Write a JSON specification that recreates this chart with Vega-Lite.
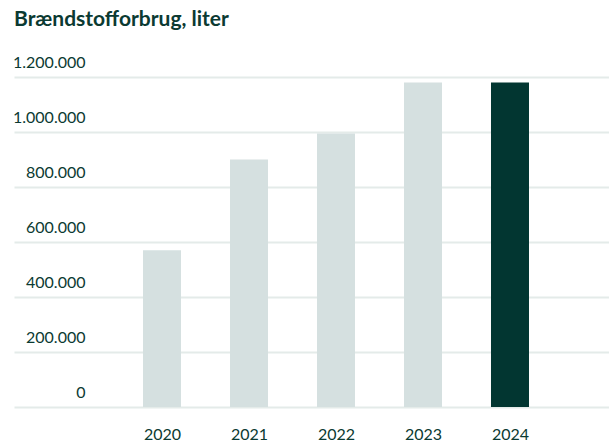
{
  "$schema": "https://vega.github.io/schema/vega-lite/v6.json",
  "autosize": "none",
  "width": 595,
  "height": 330,
  "padding": {"left": 14, "top": 77, "right": 0, "bottom": 36},
  "title": {
    "text": "Brændstofforbrug, liter",
    "anchor": "start",
    "frame": "group",
    "font": "Lato",
    "fontSize": 21,
    "fontWeight": "bold",
    "color": "#0b3a32",
    "offset": 24
  },
  "data": {
    "values": [
      {"year": 2020, "liter": 570000, "current": "no"},
      {"year": 2021, "liter": 900000, "current": "no"},
      {"year": 2022, "liter": 995000, "current": "no"},
      {"year": 2023, "liter": 1180000, "current": "no"},
      {"year": 2024, "liter": 1180000, "current": "yes"}
    ]
  },
  "mark": {"type": "bar", "width": 38},
  "encoding": {
    "x": {
      "field": "year",
      "type": "quantitative",
      "scale": {"domain": [2018.299, 2025.138], "nice": false, "zero": false, "padding": 0},
      "axis": {
        "title": null,
        "values": [2020, 2021, 2022, 2023, 2024],
        "format": "d",
        "grid": false,
        "labelAngle": 0,
        "domain": false,
        "ticks": false,
        "labelPadding": 19,
        "labelFont": "Lato",
        "labelFontSize": 16,
        "labelColor": "#0b3a32"
      }
    },
    "y": {
      "field": "liter",
      "type": "quantitative",
      "scale": {"domain": [0, 1200000], "nice": false},
      "axis": {
        "title": null,
        "values": [0, 200000, 400000, 600000, 800000, 1000000, 1200000],
        "format": ",d",
        "domain": false,
        "ticks": false,
        "tickSize": 0,
        "labelAlign": "right",
        "labelBaseline": "middle",
        "labelPadding": -71,
        "labelOffset": -15,
        "labelFont": "Lato",
        "labelFontSize": 16,
        "labelColor": "#0b3a32",
        "grid": true,
        "gridColor": "#e4ebe9",
        "gridWidth": 2
      }
    },
    "color": {
      "field": "current",
      "type": "nominal",
      "scale": {"domain": ["no", "yes"], "range": ["#d5e0e0", "#023631"]},
      "legend": null
    }
  },
  "config": {
    "view": {"stroke": null},
    "locale": {
      "number": {"decimal": ",", "thousands": ".", "grouping": [3], "currency": ["", " kr."]}
    }
  }
}
